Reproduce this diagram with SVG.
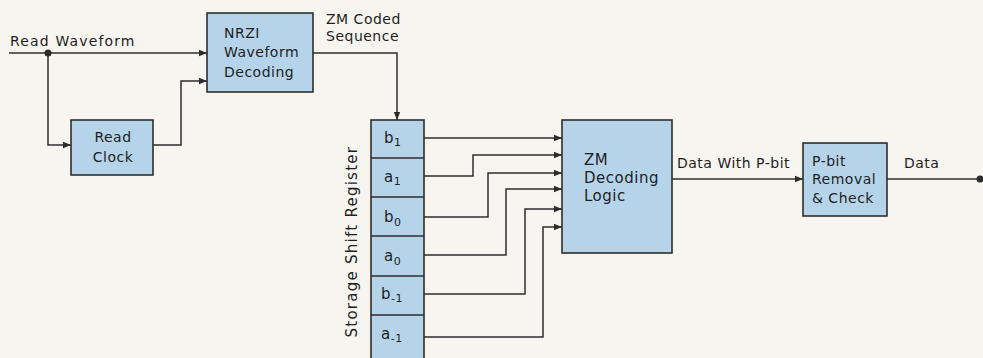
<svg xmlns="http://www.w3.org/2000/svg" width="983" height="358" viewBox="0 0 983 358">
<defs>
<marker id="ah" viewBox="0 0 10 10" refX="10" refY="5" markerWidth="9" markerHeight="8" markerUnits="userSpaceOnUse" orient="auto">
<path d="M0,1 L10,5 L0,9 Z" fill="#2b2b2b"/>
</marker>
<style>
.bg{fill:#f7f5f0}
.box{fill:#b5d4ea;stroke:#2e2e2e;stroke-width:1.6}
.div{stroke:#2e2e2e;stroke-width:1.6}
.ln{fill:none;stroke:#2e2e2e;stroke-width:1.5}
.t{font-family:"DejaVu Sans","Liberation Sans",sans-serif;font-size:14px;fill:#1e1e1e;letter-spacing:0.5px}
.c{text-anchor:middle}
.r{font-size:15px}
.s{font-size:11px}
.z{font-size:15px}
</style>
</defs>
<rect class="bg" x="0" y="0" width="983" height="358"/>

<g id="connectors">
<path class="ln" d="M9,53 H207" marker-end="url(#ah)"/>
<circle cx="48" cy="53" r="3.5" fill="#2b2b2b"/>
<path class="ln" d="M48,53 V145 H71" marker-end="url(#ah)"/>
<path class="ln" d="M153,145 H181 V81 H207" marker-end="url(#ah)"/>
<path class="ln" d="M313,53 H397 V120" marker-end="url(#ah)"/>
<path class="ln" d="M424,138 H562" marker-end="url(#ah)"/>
<path class="ln" d="M424,176 H473 V155 H562" marker-end="url(#ah)"/>
<path class="ln" d="M424,217 H488 V173 H562" marker-end="url(#ah)"/>
<path class="ln" d="M424,255 H506 V189 H562" marker-end="url(#ah)"/>
<path class="ln" d="M424,294 H525 V209 H562" marker-end="url(#ah)"/>
<path class="ln" d="M424,337 H543 V227 H562" marker-end="url(#ah)"/>
<path class="ln" d="M672,179 H803" marker-end="url(#ah)"/>
<path class="ln" d="M887,179 H980"/>
<circle cx="980" cy="179" r="3.5" fill="#2b2b2b"/>
</g>

<g id="labels">
<text class="t" x="10" y="46" textLength="125" lengthAdjust="spacing">Read Waveform</text>
<text class="t" x="326" y="24">ZM Coded</text>
<text class="t" x="326" y="41">Sequence</text>
<text class="t" x="677" y="168">Data With P-bit</text>
<text class="t" x="904" y="168">Data</text>
<text class="t c r" transform="translate(357,242) rotate(-90)" textLength="191" lengthAdjust="spacing">Storage Shift Register</text>
</g>

<g id="nrzi">
<rect class="box" x="207" y="13" width="106" height="79"/>
<text class="t" x="224" y="38">NRZI</text>
<text class="t" x="224" y="57">Waveform</text>
<text class="t" x="224" y="77">Decoding</text>
</g>

<g id="read-clock">
<rect class="box" x="71" y="120" width="82" height="55"/>
<text class="t c" x="113" y="142">Read</text>
<text class="t c" x="113" y="162">Clock</text>
</g>

<g id="register">
<rect class="box" x="371" y="120" width="53" height="240"/>
<line class="div" x1="371" y1="158" x2="424" y2="158"/>
<line class="div" x1="371" y1="197" x2="424" y2="197"/>
<line class="div" x1="371" y1="236" x2="424" y2="236"/>
<line class="div" x1="371" y1="276" x2="424" y2="276"/>
<line class="div" x1="371" y1="315" x2="424" y2="315"/>
<text class="t r" x="384" y="143">b<tspan class="s" dy="3">1</tspan></text>
<text class="t r" x="384" y="182">a<tspan class="s" dy="3">1</tspan></text>
<text class="t r" x="384" y="222">b<tspan class="s" dy="4">0</tspan></text>
<text class="t r" x="384" y="261">a<tspan class="s" dy="4">0</tspan></text>
<text class="t r" x="381" y="299">b<tspan class="s" dy="3">-1</tspan></text>
<text class="t r" x="381" y="339">a<tspan class="s" dy="3">-1</tspan></text>
</g>

<g id="zm-decoding">
<rect class="box" x="562" y="120" width="110" height="133"/>
<text class="t z" x="584" y="165">ZM</text>
<text class="t z" x="584" y="183">Decoding</text>
<text class="t z" x="584" y="201">Logic</text>
</g>

<g id="pbit">
<rect class="box" x="803" y="143" width="84" height="73"/>
<text class="t" x="812" y="166">P-bit</text>
<text class="t" x="812" y="184">Removal</text>
<text class="t" x="812" y="203">&amp; Check</text>
</g>
</svg>
